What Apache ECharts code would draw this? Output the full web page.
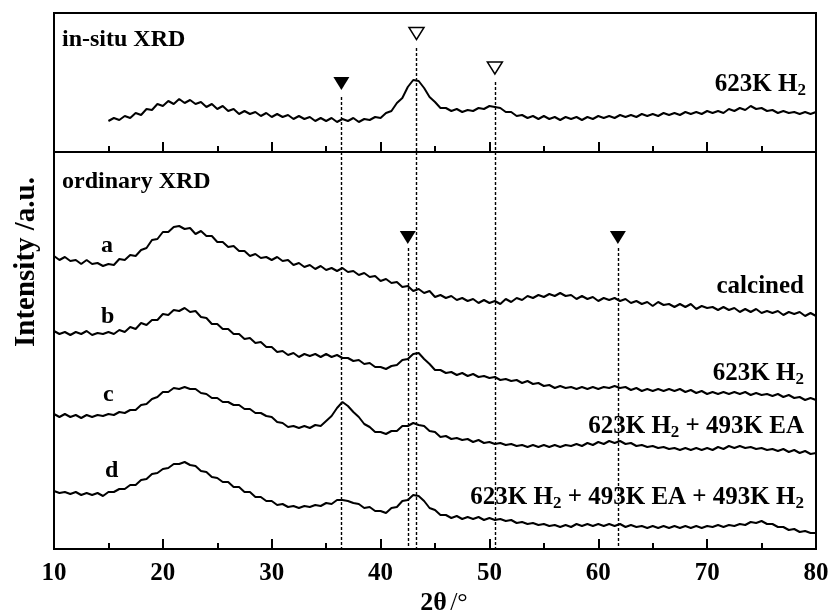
<!DOCTYPE html>
<html>
<head>
<meta charset="utf-8">
<script src="https://cdn.jsdelivr.net/npm/echarts@6/dist/echarts.min.js"></script>
<style>
  html, body { margin: 0; padding: 0; background: #fff; }
  #main { width: 833px; height: 615px; }
</style>
</head>
<body>
<div id="main"></div>
<script>
// 2θ sampling grids (0.5° step)
const thetaTop = Array.from({ length: 131 }, (_, i) => 15 + i * 0.5)
const thetaBottom = Array.from({ length: 141 }, (_, i) => 10 + i * 0.5)

// in-situ XRD, 623K H2 (top panel, a.u.)
const inSitu = [
  31, 34, 32, 36, 34, 39, 37, 43, 42, 48,
  46, 51, 48, 53, 49, 52, 48, 50, 45, 48,
  43, 46, 41, 43, 38, 41, 38, 40, 36, 39,
  35, 38, 35, 37, 33, 36, 33, 35, 31, 34,
  31, 34, 30, 33, 31, 34, 30, 33, 32, 35,
  34, 39, 41, 49, 54, 65, 72, 71, 64, 55,
  50, 44, 44, 41, 43, 40, 42, 41, 44, 43,
  46, 45, 44, 40, 40, 36, 37, 34, 36, 33,
  36, 33, 35, 32, 35, 33, 35, 32, 35, 33,
  36, 34, 36, 34, 37, 35, 37, 35, 38, 36,
  38, 36, 39, 37, 39, 37, 40, 38, 40, 38,
  41, 39, 41, 39, 43, 41, 44, 42, 46, 43,
  44, 41, 42, 39, 41, 39, 40, 38, 40, 38,
  40,
]

// ordinary XRD (bottom panel, offset a.u.)
const curveA = [
  293, 289, 292, 288, 289, 285, 289, 285, 286, 283,
  285, 284, 290, 289, 294, 293, 299, 301, 309, 310,
  317, 317, 322, 323, 320, 321, 315, 318, 313, 313,
  307, 307, 302, 303, 298, 298, 293, 295, 291, 292,
  289, 292, 288, 289, 284, 286, 282, 284, 280, 283,
  279, 281, 278, 281, 277, 278, 274, 276, 272, 273,
  268, 270, 266, 267, 262, 263, 258, 260, 256, 258,
  252, 254, 251, 253, 249, 251, 248, 250, 246, 249,
  246, 248, 245, 250, 247, 251, 249, 253, 251, 254,
  252, 255, 253, 256, 253, 254, 250, 253, 250, 252,
  248, 251, 249, 251, 248, 250, 246, 248, 245, 247,
  243, 247, 244, 245, 242, 245, 242, 245, 240, 243,
  241, 242, 239, 242, 239, 241, 237, 240, 237, 240,
  236, 238, 236, 238, 234, 237, 235, 237, 233, 236,
  233,
]
const curveB = [
  218, 215, 217, 214, 217, 215, 218, 214, 216, 215,
  217, 215, 219, 217, 222, 220, 226, 224, 229, 229,
  235, 234, 239, 238, 241, 237, 238, 232, 231, 225,
  225, 220, 220, 215, 215, 210, 211, 206, 207, 202,
  202, 197, 198, 194, 196, 192, 195, 193, 195, 192,
  195, 192, 194, 191, 191, 188, 189, 185, 186, 182,
  182, 180, 183, 184, 189, 190, 195, 196, 190, 185,
  179, 179, 176, 177, 174, 176, 173, 175, 172, 173,
  171, 172, 169, 170, 168, 169, 166, 168, 165, 166,
  163, 164, 161, 163, 161, 162, 160, 162, 160, 162,
  160, 162, 161, 163, 161, 162, 159, 161, 158, 160,
  158, 160, 158, 160, 158, 160, 157, 159, 156, 158,
  155, 157, 155, 157, 155, 157, 155, 157, 154, 156,
  154, 155, 153, 155, 152, 154, 151, 152, 149, 151,
  149,
]
const curveC = [
  135, 132, 135, 132, 134, 131, 134, 132, 134, 133,
  135, 134, 137, 136, 139, 139, 144, 145, 150, 152,
  157, 157, 161, 160, 162, 160, 160, 156, 155, 151,
  151, 147, 147, 144, 144, 140, 140, 136, 136, 133,
  132, 127, 126, 122, 123, 121, 123, 121, 124, 123,
  128, 133, 141, 147, 143, 137, 132, 125, 122, 117,
  117, 115, 118, 118, 123, 123, 126, 124, 123, 118,
  117, 112, 113, 110, 111, 109, 110, 107, 109, 106,
  107, 105, 106, 104, 105, 103, 104, 102, 104, 102,
  104, 102, 104, 102, 104, 103, 105, 103, 106, 104,
  107, 105, 108, 106, 108, 105, 106, 103, 104, 102,
  103, 101, 102, 100, 101, 99, 101, 99, 101, 99,
  101, 99, 102, 100, 103, 101, 103, 101, 102, 100,
  101, 99, 100, 98, 100, 97, 99, 96, 98, 95,
  96,
]
const curveD = [
  58, 56, 57, 55, 57, 54, 56, 54, 56, 53,
  57, 57, 60, 60, 64, 64, 69, 70, 75, 76,
  80, 81, 85, 85, 87, 84, 83, 78, 77, 72,
  71, 67, 67, 62, 62, 57, 57, 52, 52, 48,
  48, 44, 45, 42, 43, 41, 43, 42, 44, 43,
  46, 45, 49, 49, 48, 46, 45, 41, 42, 38,
  38, 36, 41, 42, 48, 49, 54, 53, 48, 41,
  39, 34, 34, 31, 33, 30, 32, 30, 32, 29,
  31, 29, 30, 28, 29, 26, 27, 25, 26, 24,
  25, 23, 24, 22, 24, 22, 25, 23, 25, 23,
  25, 23, 25, 23, 25, 22, 24, 22, 23, 21,
  23, 21, 23, 21, 23, 21, 23, 21, 23, 21,
  23, 22, 24, 22, 24, 23, 25, 24, 27, 26,
  28, 25, 25, 22, 22, 19, 20, 17, 18, 16,
  16,
]

// reflection markers [2θ, height]
const openTop = [[43.3, 118.5], [50.5, 84]]
const filledTop = [[36.4, 68.5]]
const filledBottom = [[42.5, 311.5], [61.8, 311.5]]
// dashed guide lines [2θ, upper end]
const guidesTop = [[36.4, 55], [43.3, 104], [50.5, 70]]
const guidesBottom = [[36.4, 397], [42.5, 301], [43.3, 397], [50.5, 397], [61.8, 301]]

const FONT = '"Liberation Serif", "Times New Roman", serif'

function zip(xs, ys) {
  return ys.map((y, i) => [xs[i], y])
}
function guideLines(list) {
  return list.map(g => [{ coord: [g[0], g[1]] }, { coord: [g[0], 0] }])
}

const chart = echarts.init(document.getElementById('main'))

const xAxisBase = {
  type: 'value',
  min: 10,
  max: 80,
  interval: 10,
  axisLine: { lineStyle: { color: '#000', width: 2 } },
  axisTick: { inside: true, length: 10, lineStyle: { color: '#000', width: 2 } },
  minorTick: { show: true, splitNumber: 2, length: 6, lineStyle: { color: '#000', width: 2 } },
  splitLine: { show: false },
  minorSplitLine: { show: false },
}

const lineBase = {
  type: 'line',
  showSymbol: false,
  symbol: 'none',
  lineStyle: { color: '#000', width: 2 },
  silent: true,
}

const dashStyle = { color: '#000', width: 1.4, type: [3, 2] }

function richLabel(text, x, y) {
  return {
    type: 'text',
    x: x,
    y: y,
    style: {
      text: text,
      align: 'right',
      textAlign: 'right',
      verticalAlign: 'middle',
      textVerticalAlign: 'middle',
      fill: '#000',
      rich: {
        b: { fontSize: 25, fontWeight: 'bold', fontFamily: FONT, lineHeight: 28, fill: '#000' },
        s: { fontSize: 17, fontWeight: 'bold', fontFamily: FONT, lineHeight: 22, verticalAlign: 'bottom', fill: '#000' },
      },
    },
  }
}
function plainLabel(text, x, y, size) {
  return {
    type: 'text',
    x: x,
    y: y,
    style: {
      text: text,
      font: 'bold ' + size + 'px ' + FONT,
      align: 'left',
      textAlign: 'left',
      verticalAlign: 'middle',
      textVerticalAlign: 'middle',
      fill: '#000',
    },
  }
}

chart.setOption({
  animation: false,
  backgroundColor: '#fff',
  grid: [
    { left: 54, top: 13, width: 762, height: 139, show: true, borderColor: '#000', borderWidth: 2 },
    { left: 54, top: 152, width: 762, height: 397, show: true, borderColor: '#000', borderWidth: 2 },
  ],
  xAxis: [
    Object.assign({ gridIndex: 0, axisLabel: { show: false } }, xAxisBase),
    Object.assign({
      gridIndex: 1,
      axisLabel: { color: '#000', fontSize: 25, fontWeight: 'bold', fontFamily: FONT, margin: 12 },
    }, xAxisBase),
  ],
  yAxis: [
    { gridIndex: 0, type: 'value', min: 0, max: 139, show: false },
    { gridIndex: 1, type: 'value', min: 0, max: 397, show: false },
  ],
  series: [
    Object.assign({ xAxisIndex: 0, yAxisIndex: 0, data: zip(thetaTop, inSitu) }, lineBase),
    Object.assign({ xAxisIndex: 1, yAxisIndex: 1, data: zip(thetaBottom, curveA) }, lineBase),
    Object.assign({ xAxisIndex: 1, yAxisIndex: 1, data: zip(thetaBottom, curveB) }, lineBase),
    Object.assign({ xAxisIndex: 1, yAxisIndex: 1, data: zip(thetaBottom, curveC) }, lineBase),
    Object.assign({ xAxisIndex: 1, yAxisIndex: 1, data: zip(thetaBottom, curveD) }, lineBase),
    {
      type: 'scatter', xAxisIndex: 0, yAxisIndex: 0, silent: true,
      data: filledTop, symbol: 'triangle', symbolSize: [16, 13], symbolRotate: 180,
      itemStyle: { color: '#000', opacity: 1 },
      markLine: { silent: true, symbol: 'none', label: { show: false }, lineStyle: dashStyle, data: guideLines(guidesTop) },
    },
    {
      type: 'scatter', xAxisIndex: 0, yAxisIndex: 0, silent: true,
      data: openTop, symbol: 'triangle', symbolSize: [15, 12], symbolRotate: 180,
      itemStyle: { color: '#fff', borderColor: '#000', borderWidth: 1.5, opacity: 1 },
    },
    {
      type: 'scatter', xAxisIndex: 1, yAxisIndex: 1, silent: true,
      data: filledBottom, symbol: 'triangle', symbolSize: [16, 13], symbolRotate: 180,
      itemStyle: { color: '#000', opacity: 1 },
      markLine: { silent: true, symbol: 'none', label: { show: false }, lineStyle: dashStyle, data: guideLines(guidesBottom) },
    },
  ],
  graphic: [
    plainLabel('in-situ XRD', 62, 40, 24),
    plainLabel('ordinary XRD', 62, 182, 24),
    plainLabel('a', 101, 246, 24),
    plainLabel('b', 101, 317, 24),
    plainLabel('c', 103, 395, 24),
    plainLabel('d', 105, 471, 24),
    richLabel('{b|623K H}{s|2}', 806, 85),
    {
      type: 'text', x: 804, y: 287,
      style: { text: 'calcined', font: 'bold 25px ' + FONT, align: 'right', textAlign: 'right', verticalAlign: 'middle', textVerticalAlign: 'middle', fill: '#000' },
    },
    richLabel('{b|623K H}{s|2}', 804, 374),
    richLabel('{b|623K H}{s|2}{b| + 493K EA}', 804, 427),
    richLabel('{b|623K H}{s|2}{b| + 493K EA + 493K H}{s|2}', 804, 498),
    {
      type: 'text', x: 27, y: 262, rotation: Math.PI / 2,
      style: { text: 'Intensity /a.u.', font: 'bold 29px ' + FONT, align: 'center', textAlign: 'center', verticalAlign: 'middle', textVerticalAlign: 'middle', fill: '#000' },
    },
    {
      type: 'text', x: 444, y: 603,
      style: {
        text: '{b|2θ} {r|/°}',
        align: 'center', textAlign: 'center', verticalAlign: 'middle', textVerticalAlign: 'middle', fill: '#000',
        rich: {
          b: { fontSize: 26, fontWeight: 'bold', fontFamily: FONT, fill: '#000' },
          r: { fontSize: 26, fontFamily: FONT, fill: '#000' },
        },
      },
    },
  ],
})
</script>
</body>
</html>
